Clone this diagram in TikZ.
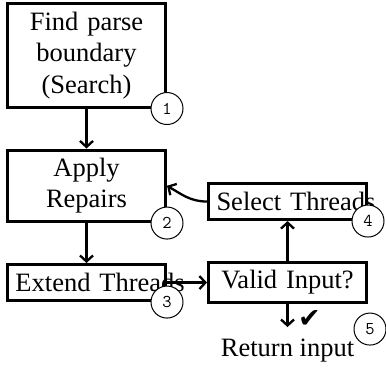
\documentclass[tikz,border=0pt]{standalone}
\usepackage{fontspec}
\setmainfont{Liberation Serif}
\newfontfamily\symfont{DejaVu Sans}
\usetikzlibrary{positioning}
\usetikzlibrary{arrows.meta}

\begin{document}
\begin{tikzpicture}[
    node distance=40pt,
    block/.style={rectangle,draw=black,line width=3pt,text width=142pt,minimum height=36pt,inner sep=8pt,align=center,font=\fontsize{26.5}{31.5}\selectfont},
    num/.style={circle,draw=black,fill=white,line width=1pt,minimum size=32pt,inner sep=0pt,font=\ttfamily\fontsize{18}{18}\selectfont},
    arr/.style={line width=2.3pt,-{Straight Barb[length=6pt,width=13pt,line width=2.3pt]}}
    ]
    \useasboundingbox (0,0) rectangle (386pt,-368pt);
    \node (find) [block] at (86.5pt,-55.5pt) {Find parse\\boundary\\(Search)};
    \node (apply) [block,below=of find] {Apply\\Repairs};
    \node (extend) [block,below=of apply] {\mbox{Extend Threads}};
    \node (valid) [block,right=of extend] {\mbox{Valid Input?}};
    \node (select) [block,above=of valid] {\mbox{Select Threads}};
    \node (ret) [below=35pt of valid,inner sep=0pt,font=\fontsize{26.5}{31.5}\selectfont] {Return input};
    \node (tick) at ([shift={(22pt,-15pt)}]valid.south) {\symfont\fontsize{27}{27}\selectfont ✔};
    \draw[arr] (find) -- (apply);
    \draw[arr] (apply) -- (extend);
    \draw[arr] (extend) -- (valid);
    \draw[arr] (valid) -- (select);
    \draw[arr] (select.west) to[out=180,in=-30] (apply.east);
    \draw[arr,shorten >=12pt] (valid.south) -- (valid.south |- ret.north);
    \node (n1) [num] at (find.south east) {1};
    \node (n2) [num] at (apply.south east) {2};
    \node (n3) [num] at (extend.south east) {3};
    \node (n4) [num] at (select.south east) {4};
    \node (n5) [num] at ([shift={(2pt,-25pt)}]valid.south east) {5};
  \end{tikzpicture}
\end{document}
